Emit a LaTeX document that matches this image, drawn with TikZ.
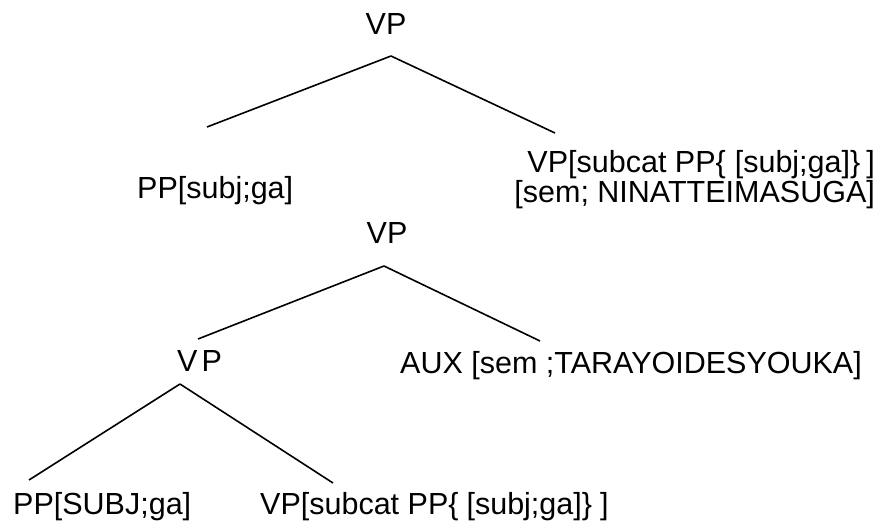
\documentclass[tikz,border=0pt]{standalone}
\usepackage{fontspec}
\setmainfont{Liberation Sans}

\begin{document}
\begin{tikzpicture}[
			x=1pt,
			y=-1pt,
			every node/.style={
					inner sep=0pt,
					anchor=base,
					font=\fontsize{30.5}{27}\selectfont % large sans labels
				},
			branch/.style={line width=1.6pt}
		]
		\useasboundingbox (0,0) rectangle (879,527);

		% upper tree
		\node (vpa) at (386, 35) {VP};
		\node[anchor=base west] (ppa) at (137, 198) {PP[subj;ga]};
		\node[anchor=base east, align=right] (vpb) at (875, 202) % base = last line
		{VP[subcat PP\{\hspace{9pt}[subj;ga]\}\hspace{6pt}]\\{}[sem; NINATTEIMASUGA]};

		\coordinate (apexa) at (391, 56);
		\coordinate (ppa-top) at (207, 127);
		\coordinate (vpb-top) at (555, 133);

		% lower tree
		\node (vpc) at (387, 243) {VP};
		\node[anchor=base west] (vpd) at (177, 371) {V\hspace{4pt}P};
		\node[anchor=base west] (auxa) at (400, 373) {AUX [sem ;TARAYOIDESYOUKA]};
		\node[anchor=base west] (ppb) at (13, 514) {PP[SUBJ;ga]};
		\node[anchor=base west] (vpe) at (260, 514)
		{VP[subcat PP\{\hspace{8pt}[subj;ga]\}\hspace{8pt}]};

		\coordinate (apexc) at (384, 266);
		\coordinate (vpd-top) at (198, 339);
		\coordinate (auxa-top) at (540, 341);
		\coordinate (apexd) at (180, 384);
		\coordinate (ppb-top) at (29, 480);
		\coordinate (vpe-top) at (333, 483);

		\draw[branch] (apexa) -- (ppa-top);
		\draw[branch] (apexa) -- (vpb-top);
		\draw[branch] (apexc) -- (vpd-top);
		\draw[branch] (apexc) -- (auxa-top);
		\draw[branch] (apexd) -- (ppb-top);
		\draw[branch] (apexd) -- (vpe-top);

	\end{tikzpicture}
\end{document}
